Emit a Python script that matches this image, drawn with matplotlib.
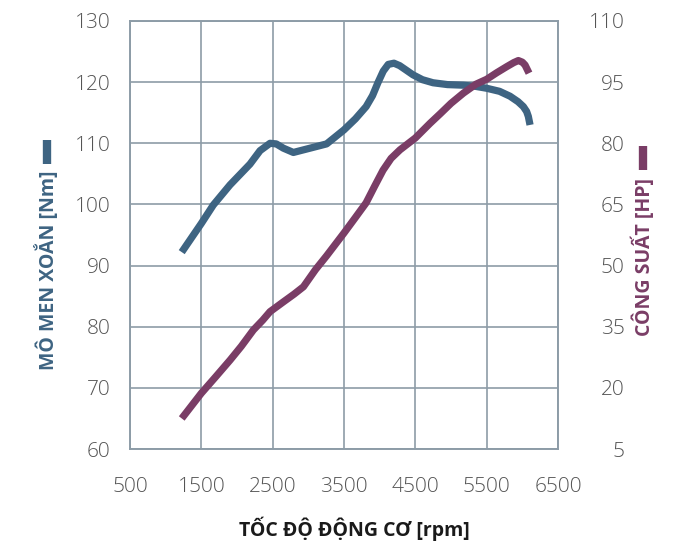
import matplotlib
matplotlib.use("Agg")
import matplotlib.pyplot as plt
from matplotlib.lines import Line2D

# engine speed vs torque / power
torque_rpm = [1225, 1500, 1667, 1902, 2182, 2323, 2463, 2550, 2650, 2790, 3023, 3256,
              3500, 3660, 3810, 3900, 3975, 4050, 4120, 4200, 4280, 4380, 4467, 4600,
              4748, 4950, 5173, 5350, 5500, 5680, 5827, 5940, 6014, 6060, 6084, 6108]
torque_nm = [92.2, 96.9, 99.9, 103.2, 106.6, 108.8, 110.0, 109.9, 109.2, 108.5, 109.2, 109.9,
             112.2, 114.0, 116.0, 117.8, 119.9, 121.8, 122.9, 123.1, 122.7, 121.9, 121.2, 120.4,
             119.9, 119.6, 119.5, 119.3, 119.0, 118.5, 117.7, 116.8, 116.0, 115.2, 114.4, 113.0]

power_rpm = [1225, 1500, 1700, 1902, 2060, 2229, 2360, 2463, 2650, 2800, 2931, 3100,
             3256, 3500, 3660, 3810, 3930, 4047, 4160, 4285, 4500, 4706, 4846, 5000,
             5173, 5350, 5500, 5640, 5781, 5880, 5944, 6000, 6038, 6094]
power_hp = [12.5, 18.7, 22.7, 26.8, 30.2, 34.2, 36.6, 38.7, 41.1, 43.0, 44.8, 49.0,
            52.4, 58.0, 61.8, 65.4, 69.5, 73.4, 76.3, 78.4, 81.3, 84.9, 87.2, 89.8,
            92.3, 94.5, 95.7, 97.3, 98.8, 99.8, 100.3, 99.9, 99.2, 97.2]

x_ticks = [500, 1500, 2500, 3500, 4500, 5500, 6500]
torque_ticks = [60, 70, 80, 90, 100, 110, 120, 130]
power_ticks = [5, 20, 35, 50, 65, 80, 95, 110]

blue = "#3e6482"
purple = "#7a3d66"
grid_c = "#8d9ca7"
tick_c = "#555555"
fonts = ["Open Sans", "DejaVu Sans"]

fig = plt.figure(figsize=(6.79, 5.44), dpi=100)
ax = fig.add_axes([0.1915, 0.1746, 0.6303, 0.7868])
ax2 = ax.twinx()

ax.plot(torque_rpm, torque_nm, color=blue, lw=5.2, solid_capstyle="butt", solid_joinstyle="round", zorder=3)
ax2.plot(power_rpm, power_hp, color=purple, lw=5.2, solid_capstyle="butt", solid_joinstyle="round", zorder=3)

ax.set_xlim(500, 6500)
ax.set_ylim(60, 130)
ax2.set_ylim(5, 110)
ax.set_xticks(x_ticks)
ax.set_yticks(torque_ticks)
ax2.set_yticks(power_ticks)

ax.grid(True, color=grid_c, lw=1.2)
ax.set_axisbelow(True)
for a in (ax, ax2):
    for s in a.spines.values():
        s.set_color(grid_c)
        s.set_linewidth(1.2)
    a.tick_params(length=0, labelsize=15, labelcolor=tick_c)
    for lab in a.get_xticklabels() + a.get_yticklabels():
        lab.set_family(fonts)
        lab.set_fontweight("light")

ax.tick_params(axis="y", pad=14)
ax.tick_params(axis="x", pad=20)
ax2.tick_params(axis="y", pad=48)
for lab in ax2.get_yticklabels():
    lab.set_horizontalalignment("right")

# axis titles with the little colour bar next to them
fig.text(0.069, 0.6875, "MÔ MEN XOẮN [Nm]", rotation=90, ha="center", va="top",
         color=blue, fontsize=14, fontweight="bold", family=fonts)
fig.add_artist(Line2D([0.069, 0.069], [1 - 164 / 544, 1 - 140 / 544], color=blue, lw=6,
                      solid_capstyle="butt", transform=fig.transFigure))
fig.text(0.947, 0.673, "CÔNG SUẤT [HP]", rotation=90, ha="center", va="top",
         color=purple, fontsize=14, fontweight="bold", family=fonts)
fig.add_artist(Line2D([0.947, 0.947], [1 - 170 / 544, 1 - 146 / 544], color=purple, lw=6,
                      solid_capstyle="butt", transform=fig.transFigure))
fig.text(0.522, 0.028, "TỐC ĐỘ ĐỘNG CƠ [rpm]", ha="center", va="center",
         color="#1a1a1a", fontsize=14, fontweight="bold", family=fonts)

fig.savefig("out.png", dpi=100)
